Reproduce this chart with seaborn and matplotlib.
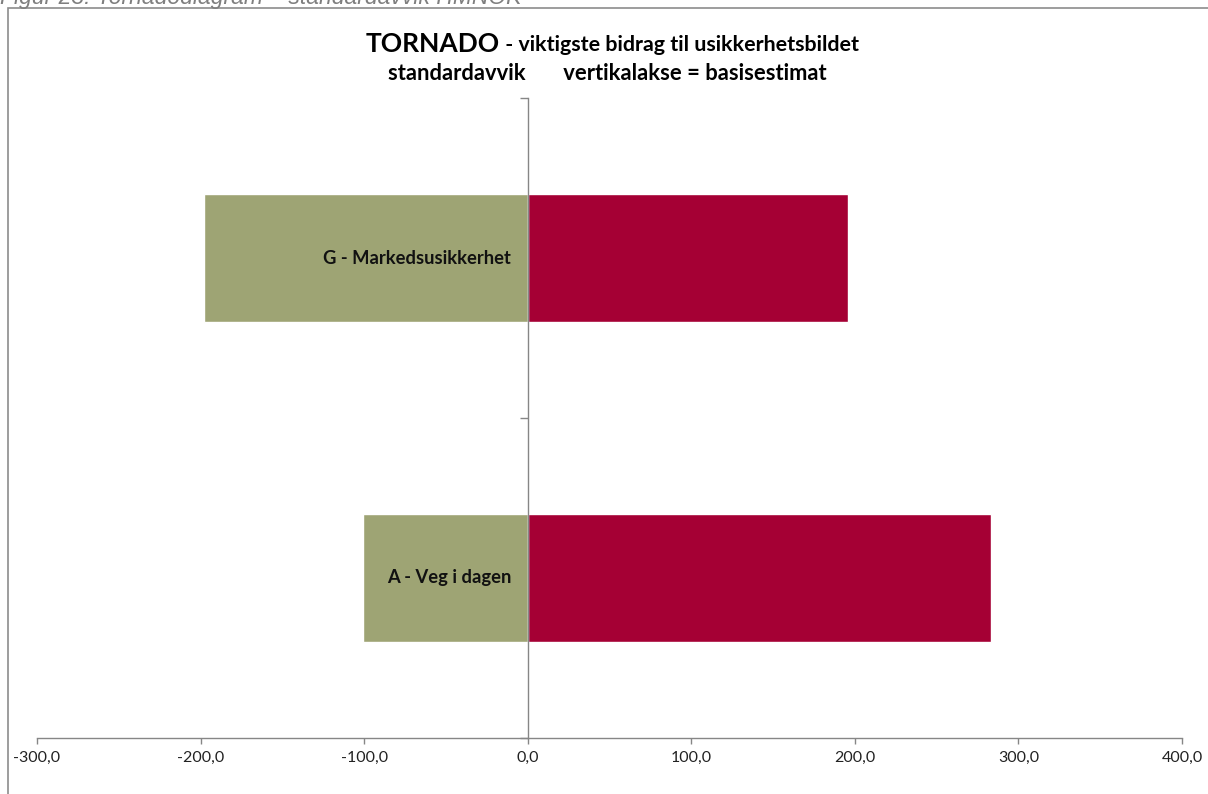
import matplotlib.pyplot as plt
import matplotlib.ticker as mticker
from matplotlib.patches import Rectangle
import pandas as pd
import seaborn as sns

# Data
categories = ['G - Markedsusikkerhet', 'A - Veg i dagen']
low_values = [-198.0, -101.0]
high_values = [196.0, 283.5]
x_ticks = [-300, -200, -100, 0, 100, 200, 300, 400]

df = pd.DataFrame({'kategori': categories, 'lav': low_values, 'hoy': high_values})

sns.set_theme(style='white')
plt.rcParams['font.family'] = ['Lato', 'DejaVu Sans']

fig = plt.figure(figsize=(12.08, 7.94), dpi=100)
ax = fig.add_axes([37 / 1208, 1 - 738 / 794, (1182 - 37) / 1208, (738 - 98) / 794])

sns.barplot(data=df, x='lav', y='kategori', orient='h', color='#9EA474',
            width=0.4, saturation=1, ax=ax)
sns.barplot(data=df, x='hoy', y='kategori', orient='h', color='#A50034',
            width=0.4, saturation=1, ax=ax)

# Category labels inside the left bars
for i, name in enumerate(df['kategori']):
    ax.text(-10, i, name, ha='right', va='center', fontsize=13.2,
            fontweight='bold', color='#111111')

ax.set_xlim(-300, 400)
ax.set_ylim(1.5, -0.5)
ax.set_xticks(x_ticks)
ax.xaxis.set_major_formatter(mticker.FuncFormatter(lambda v, p: f'{v:.1f}'.replace('.', ',')))
ax.set_yticks([-0.5, 0.5, 1.5])
ax.set_yticklabels([])
ax.set_xlabel('')
ax.set_ylabel('')

for side in ['top', 'right']:
    ax.spines[side].set_visible(False)
ax.spines['left'].set_position(('data', 0))
ax.spines['left'].set_color('#868686')
ax.spines['bottom'].set_color('#868686')
ax.spines['left'].set_linewidth(1)
ax.spines['bottom'].set_linewidth(1)
ax.tick_params(axis='x', direction='out', length=4, width=1, color='#868686',
               labelsize=11.5, labelcolor='#222222', pad=5, bottom=True)
ax.tick_params(axis='y', direction='out', length=6, width=1, color='#868686', left=True)

# Titles
fig.text(500 / 1208, 1 - 44 / 794, 'TORNADO', ha='right', va='center', fontsize=19,
         fontweight='bold', color='black')
fig.text(500 / 1208, 1 - 45 / 794, ' - viktigste bidrag til usikkerhetsbildet', ha='left',
         va='center', fontsize=15.4, fontweight='bold', color='black')
fig.text(607 / 1208, 1 - 73 / 794, 'standardavvik       vertikalakse = basisestimat',
         ha='center', va='center', fontsize=15.8, fontweight='bold', color='black')

# Caption cut off at top and chart frame
fig.text(0, 1 - 4 / 794, 'Figur 23: Tornadodiagram \u2013 standardavvik HMNOK',
         ha='left', va='baseline', fontsize=16.5, style='italic', color='#7f7f7f',
         family=['Liberation Sans', 'DejaVu Sans'])
fig.patches.append(Rectangle((8 / 1208, -0.1), 1.2, 1.1 - 8 / 794,
                             transform=fig.transFigure, fill=False,
                             edgecolor='#8c8c8c', linewidth=1.2))

fig.savefig('out.png', dpi=100)
